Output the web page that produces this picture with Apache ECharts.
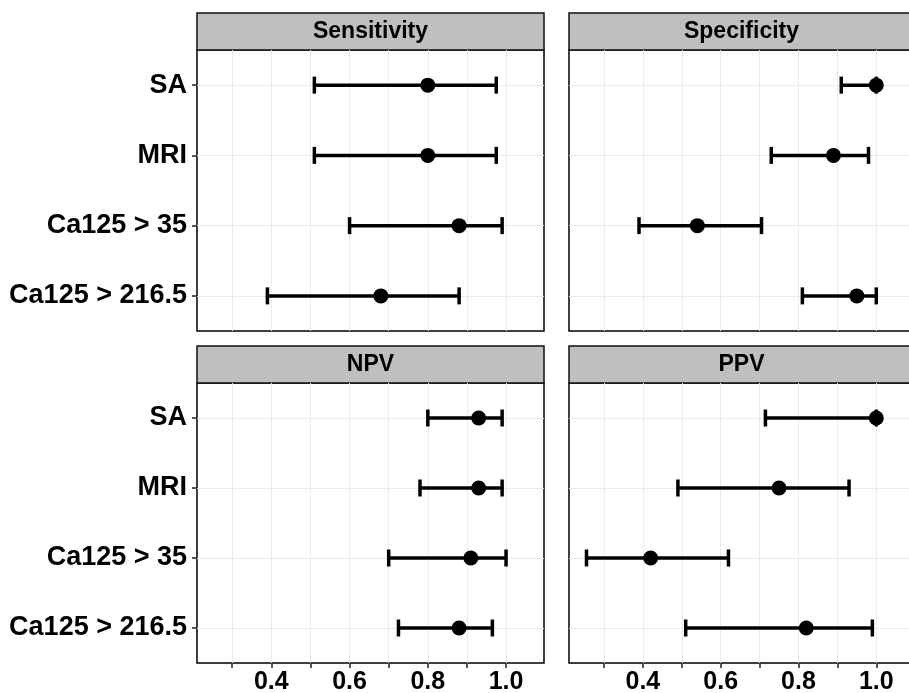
<!DOCTYPE html>
<html>
  <head>
    <meta http-equiv="Content-Type" content="text/html; charset=UTF-8">
    <title>Diagnostic accuracy forest plot</title>
    <style type="text/css">
      body {
        margin: 0;
        padding: 0;
        background-color: white;
      }
      #main {
        width: 909px;
        height: 693px;
      }
    </style>
  </head>
  <body>
    <div id="main"></div>
    <script src="https://cdn.jsdelivr.net/npm/echarts@6/dist/echarts.min.js" type="text/javascript"></script>
    <script type="text/javascript">
      // data
      var categories = ['SA', 'MRI', 'Ca125 > 35', 'Ca125 > 216.5'];
      var panelNames = ['Sensitivity', 'Specificity', 'NPV', 'PPV'];

      var sensEst  = [0.80, 0.80, 0.88, 0.68];
      var sensLow  = [0.51, 0.51, 0.60, 0.39];
      var sensHigh = [0.975, 0.975, 0.99, 0.88];

      var specEst  = [1.00, 0.89, 0.54, 0.95];
      var specLow  = [0.91, 0.73, 0.39, 0.81];
      var specHigh = [1.00, 0.98, 0.705, 1.00];

      var npvEst  = [0.93, 0.93, 0.91, 0.88];
      var npvLow  = [0.80, 0.78, 0.70, 0.725];
      var npvHigh = [0.99, 0.99, 1.00, 0.965];

      var ppvEst  = [1.00, 0.75, 0.42, 0.82];
      var ppvLow  = [0.715, 0.49, 0.255, 0.51];
      var ppvHigh = [1.00, 0.93, 0.62, 0.99];

      var tickValues  = [0.3, 0.4, 0.5, 0.6, 0.7, 0.8, 0.9, 1.0];
      var labelValues = [0.4, 0.6, 0.8, 1.0];

      var panelEst  = [sensEst, specEst, npvEst, ppvEst];
      var panelLow  = [sensLow, specLow, npvLow, ppvLow];
      var panelHigh = [sensHigh, specHigh, npvHigh, ppvHigh];

      var font = 'Liberation Sans';

      // panel boxes: [left, top, width, height] - right column runs off the page
      var boxes = [
        [197, 50, 347, 281],
        [569, 50, 345, 281],
        [197, 383, 347, 280],
        [569, 383, 345, 280]
      ];
      var stripH = 37;

      function renderBar(params, api) {
        var y = api.value(2);
        var a = api.coord([api.value(0), y]);
        var b = api.coord([api.value(1), y]);
        var h = 8.5;
        var style = { stroke: '#000', lineWidth: 3.5 };
        return {
          type: 'group',
          children: [
            { type: 'line', shape: { x1: a[0], y1: a[1], x2: b[0], y2: b[1] }, style: style },
            { type: 'line', shape: { x1: a[0], y1: a[1] - h, x2: a[0], y2: a[1] + h }, style: style },
            { type: 'line', shape: { x1: b[0], y1: b[1] - h, x2: b[0], y2: b[1] + h }, style: style }
          ]
        };
      }

      var grids = [], xAxes = [], yAxes = [], series = [], graphics = [];

      for (var p = 0; p < 4; p++) {
        var bx = boxes[p];
        var isBottom = p >= 2;
        var isLeft = p % 2 === 0;

        grids.push({
          left: bx[0], top: bx[1], width: bx[2], height: bx[3],
          outerBoundsMode: 'none',
          show: true, borderColor: '#000', borderWidth: 1.5, backgroundColor: '#fff'
        });

        xAxes.push({
          type: 'value', gridIndex: p, min: 0.21, max: 1.097,
          axisLine: { show: false },
          axisTick: { show: isBottom, length: 5, customValues: tickValues,
                      lineStyle: { color: '#222', width: 1.5 } },
          axisLabel: { show: isBottom, customValues: labelValues, margin: 7,
                       fontSize: 25, fontWeight: 'bold', fontFamily: font, color: '#000',
                       formatter: function (v) { return v.toFixed(1); } },
          splitLine: { show: true, lineStyle: { color: '#ebebeb', width: 1 } }
        });

        yAxes.push({
          type: 'category', gridIndex: p, data: categories, inverse: true,
          axisLine: { show: false },
          axisTick: { show: isLeft, length: 5, alignWithLabel: true,
                      lineStyle: { color: '#222', width: 1.5 } },
          axisLabel: { show: isLeft, margin: 10, fontSize: 27, fontWeight: 'bold',
                       fontFamily: font, color: '#000' },
          splitLine: { show: true, alignWithLabel: true, lineStyle: { color: '#ebebeb', width: 1 } }
        });

        var barData = [], pointData = [];
        for (var i = 0; i < categories.length; i++) {
          barData.push([panelLow[p][i], panelHigh[p][i], i]);
          pointData.push([panelEst[p][i], i]);
        }

        series.push({
          type: 'custom', xAxisIndex: p, yAxisIndex: p,
          renderItem: renderBar,
          encode: { x: [0, 1], y: 2 },
          data: barData, z: 2, silent: true
        });
        series.push({
          type: 'scatter', xAxisIndex: p, yAxisIndex: p,
          symbol: 'circle', symbolSize: 15,
          itemStyle: { color: '#000', opacity: 1 },
          data: pointData, z: 3, silent: true
        });

        // facet strip
        graphics.push({
          type: 'rect',
          shape: { x: bx[0], y: bx[1] - stripH, width: bx[2], height: stripH },
          style: { fill: '#bfbfbf', stroke: '#111', lineWidth: 1.5 }
        });
        graphics.push({
          type: 'text',
          style: {
            text: panelNames[p], x: bx[0] + bx[2] / 2, y: bx[1] - stripH / 2,
            align: 'center', verticalAlign: 'middle',
            fontSize: 23, fontWeight: 'bold', fontFamily: font, fill: '#000'
          }
        });
      }

      var myChart = echarts.init(document.getElementById('main'));
      myChart.setOption({
        backgroundColor: '#fff',
        animation: false,
        grid: grids,
        xAxis: xAxes,
        yAxis: yAxes,
        series: series,
        graphic: graphics
      });
    </script>
  </body>
</html>
